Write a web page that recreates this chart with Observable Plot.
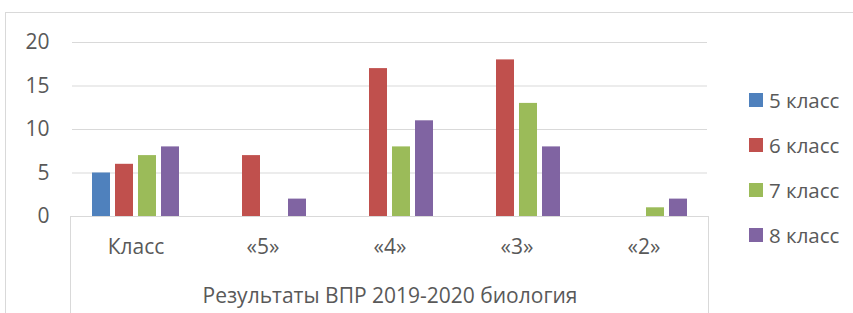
<!DOCTYPE html>
<html><head><meta charset="utf-8">
<script src="https://cdn.jsdelivr.net/npm/d3@7"></script>
<script src="https://cdn.jsdelivr.net/npm/@observablehq/plot@0.6"></script>
<style>
body{margin:0;background:#fff;}
#wrap{position:relative;width:853px;height:313px;overflow:hidden;font-family:"Open Sans",sans-serif;color:#595959;}
#wrap svg{position:absolute;left:0;top:0;}
.frame{position:absolute;border:1px solid #D9D9D9;box-sizing:border-box;}
.legend{position:absolute;left:749px;top:0;font-size:20.5px;}
.legend .item{position:absolute;left:0;white-space:nowrap;display:flex;align-items:center;height:24px;}
.legend .sw{width:14px;height:14px;margin-right:6px;}
</style></head><body><div id="wrap"></div>
<script>
const categories = ["Класс", "«5»", "«4»", "«3»", "«2»"];
const seriesNames = ["5 класс", "6 класс", "7 класс", "8 класс"];
const values5 = [5, 0, 0, 0, 0];
const values6 = [6, 7, 17, 18, 0];
const values7 = [7, 0, 8, 13, 1];
const values8 = [8, 2, 11, 8, 2];
const yTicks = [0, 5, 10, 15, 20];
const colors = ["#4F81BD", "#C0504D", "#9BBB59", "#8064A2"];
const title = "Результаты ВПР 2019-2020 биология";

const W = 853, H = 313, mL = 70, mR = 145, mT = 42, mB = 97;
const seriesValues = [values5, values6, values7, values8];
const data = categories.flatMap((c, i) => seriesNames.map((s, j) => ({category: c, series: s, value: seriesValues[j][i]})))
  .filter(d => d.value > 0);

const wrap = document.getElementById("wrap");

const outer = document.createElement("div");
outer.className = "frame";
Object.assign(outer.style, {left: "5px", top: "12px", width: (W + 20) + "px", height: (H + 20) + "px"});
wrap.appendChild(outer);

const box = document.createElement("div");
box.className = "frame";
Object.assign(box.style, {left: mL + "px", top: (H - mB) + "px", width: (W - mL - mR + 1) + "px", height: (mB + 20) + "px"});
wrap.appendChild(box);

const plot = Plot.plot({
  width: W, height: H,
  marginLeft: mL, marginRight: mR, marginTop: mT, marginBottom: mB,
  style: {fontFamily: "'Open Sans', sans-serif", fontSize: "21px", color: "#595959", background: "transparent", overflow: "visible"},
  fx: {domain: categories, padding: 0},
  x: {domain: seriesNames, paddingInner: 0.21, paddingOuter: 0.84, axis: null},
  y: {domain: [0, 20]},
  color: {domain: seriesNames, range: colors},
  marks: [
    Plot.gridY(yTicks, {stroke: "#D9D9D9", strokeOpacity: 1}),
    Plot.axisY(yTicks, {tickSize: 0, tickPadding: 23, label: null, fill: "#595959", fontSize: 21}),
    Plot.axisFx({anchor: "bottom", tickSize: 0, tickPadding: 23, label: title, labelAnchor: "center", labelOffset: 86, fill: "#595959", fontSize: 21}),
    Plot.barY(data, {fx: "category", x: "series", y: "value", fill: "series"})
  ]
});
wrap.appendChild(plot);

const legend = document.createElement("div");
legend.className = "legend";
seriesNames.forEach((s, i) => {
  const it = document.createElement("div");
  it.className = "item";
  it.style.top = (100 + 45 * i - 12) + "px";
  const sw = document.createElement("span");
  sw.className = "sw";
  sw.style.background = colors[i];
  const tx = document.createElement("span");
  tx.textContent = s;
  it.appendChild(sw); it.appendChild(tx);
  legend.appendChild(it);
});
wrap.appendChild(legend);
</script></body></html>
